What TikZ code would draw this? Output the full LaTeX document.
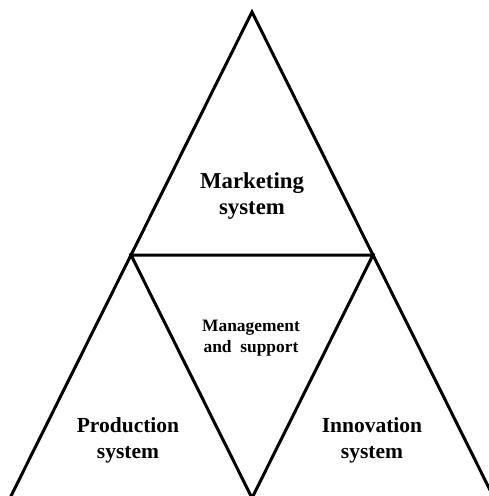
\documentclass[tikz,border=0pt]{standalone}
\usepackage{fontspec}
\setmainfont{Liberation Serif}
\usepackage{tikz}
\usetikzlibrary{calc}

\begin{document}
\begin{tikzpicture}[x=1pt, y=-1pt]
		\clip (0,0) rectangle (489,496);
		% corners of the big triangle
		\coordinate (top) at (252,12);
		\coordinate (botL) at (10,498);
		\coordinate (botR) at (494,498);
		\coordinate (midL) at ($(top)!0.5!(botL)$);
		\coordinate (midR) at ($(top)!0.5!(botR)$);
		\coordinate (botM) at ($(botL)!0.5!(botR)$);
		\draw[line width=3pt] (top) -- (botL) -- (botR) -- cycle;
		\draw[line width=3pt] (midL) -- (midR) -- (botM) -- cycle;
		\foreach \x/\y/\fs/\alph/\name in {
			252/196/22.8/mark/Marketing\\system,
			128/440/21.5/prod/Production\\system,
			372/440/21.5/inno/Innovation\\system
		 }{
		 	\node[align=center, inner sep=0pt, font=\fontsize{\fs}{26}\selectfont\bfseries] (\alph) at (\x,\y) {\name};
		 }
		 \node[align=center, inner sep=0pt, font=\fontsize{17.4}{20.5}\selectfont\bfseries] (mgmt) at (251,338) {Management\\and~~support};
	\end{tikzpicture}
\end{document}
